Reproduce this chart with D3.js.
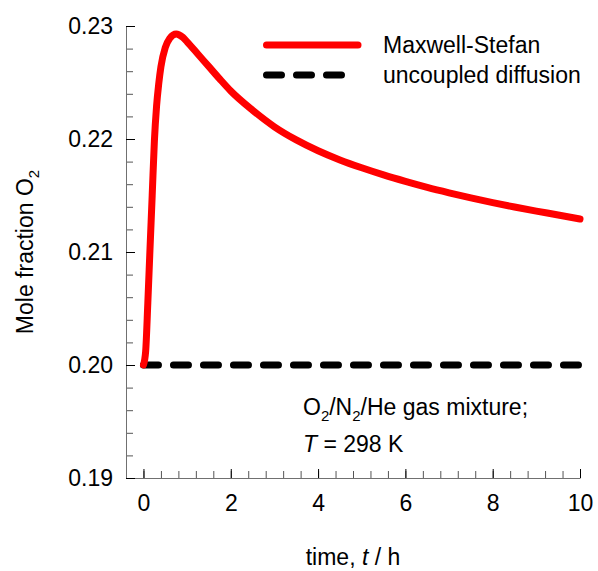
<!DOCTYPE html>
<html>
<head>
<meta charset="utf-8">
<script src="https://cdn.jsdelivr.net/npm/d3@7"></script>
<style>
  body { margin: 0; background: #fff; }
  text { font-family: "Liberation Sans", Arial, sans-serif; fill: #000; }
</style>
</head>
<body>
<svg id="chart" width="598" height="571"></svg>
<script>
// data
var timeH = [0, 0.05, 0.1, 0.15, 0.2, 0.25, 0.3, 0.35, 0.4, 0.5, 0.6, 0.75, 0.9, 1.0, 1.25, 1.5, 1.75,
             2.0, 2.5, 3.0, 3.5, 4.0, 4.5, 5.0, 5.5, 6.0, 6.5, 7.0, 7.5, 8.0, 8.5, 9.0, 9.5, 10]
var maxwellStefan = [0.2000, 0.2012, 0.2055, 0.2103, 0.2150, 0.2198, 0.2229, 0.2249, 0.2264, 0.2281, 0.2289,
                     0.2293, 0.2290, 0.2286, 0.2275, 0.2264, 0.2253, 0.22425, 0.22255, 0.22108, 0.21992,
                     0.21896, 0.21815, 0.21745, 0.21682, 0.21625, 0.21572, 0.21524, 0.21479, 0.21437,
                     0.21398, 0.21362, 0.21328, 0.21292]
var uncoupledT = [0, 10]
var uncoupled = [0.20, 0.20]
var xMajor = [0, 2, 4, 6, 8, 10]
var yMajor = [0.19, 0.20, 0.21, 0.22, 0.23]
var seriesNames = ["Maxwell-Stefan", "uncoupled diffusion"]

var svg = d3.select("#chart")
var x = d3.scaleLinear().domain([-0.4, 10]).range([126, 580])
var y = d3.scaleLinear().domain([0.19, 0.23]).range([478, 26])
var fs = 23

var xMinor = d3.range(0, 10.001, 0.4)
var yMinor = d3.range(0.19, 0.2301, 0.002)

// minor ticks
var gxm = svg.append("g").attr("transform", "translate(0,478)")
    .call(d3.axisBottom(x).tickValues(xMinor).tickSizeInner(-7).tickSizeOuter(0).tickFormat(""))
gxm.select(".domain").remove()
gxm.selectAll("line").attr("stroke", "#555")
var gym = svg.append("g").attr("transform", "translate(126,0)")
    .call(d3.axisLeft(y).tickValues(yMinor).tickSizeInner(-7).tickSizeOuter(0).tickFormat(""))
gym.select(".domain").remove()
gym.selectAll("line").attr("stroke", "#555")

// major ticks + labels
var gx = svg.append("g").attr("transform", "translate(0,478)")
    .call(d3.axisBottom(x).tickValues(xMajor).tickSizeInner(-9).tickSizeOuter(0).tickPadding(17).tickFormat(d3.format("d")))
gx.select(".domain").attr("stroke", "#707070")
gx.selectAll("line").attr("stroke", "#000")
gx.selectAll("text").style("font-size", fs + "px").attr("font-family", null)

var gy = svg.append("g").attr("transform", "translate(126,0)")
    .call(d3.axisLeft(y).tickValues(yMajor).tickSizeInner(-9).tickSizeOuter(0).tickPadding(13).tickFormat(d3.format(".2f")))
gy.select(".domain").attr("stroke", "#707070")
gy.selectAll("line").attr("stroke", "#000")
gy.selectAll("text").style("font-size", fs + "px").attr("font-family", null)

// lines
var line = d3.line().x(d => x(d[0])).y(d => y(d[1])).curve(d3.curveMonotoneX)
svg.append("path")
    .datum(d3.zip(uncoupledT, uncoupled))
    .attr("d", line)
    .attr("fill", "none").attr("stroke", "#000").attr("stroke-width", 7)
    .attr("stroke-dasharray", "15,15").attr("stroke-linecap", "round")
svg.append("path")
    .datum(d3.zip(timeH, maxwellStefan))
    .attr("d", line)
    .attr("fill", "none").attr("stroke", "#ff0000").attr("stroke-width", 7)
    .attr("stroke-linecap", "round").attr("stroke-linejoin", "round")

// legend
var leg = svg.append("g")
leg.append("line").attr("x1", 266.5).attr("x2", 358).attr("y1", 45).attr("y2", 45)
    .attr("stroke", "#ff0000").attr("stroke-width", 7).attr("stroke-linecap", "round")
leg.append("line").attr("x1", 266.5).attr("x2", 345).attr("y1", 75).attr("y2", 75)
    .attr("stroke", "#000").attr("stroke-width", 7).attr("stroke-linecap", "round")
    .attr("stroke-dasharray", "15,15")
leg.selectAll("text.lab").data(seriesNames).enter().append("text")
    .attr("x", 383).attr("y", (d, i) => 53 + i * 30)
    .style("font-size", fs + "px").text(d => d)

// annotation
var ann = svg.append("text").attr("x", 303).attr("y", 415).style("font-size", fs + "px")
ann.append("tspan").text("O")
ann.append("tspan").attr("dy", 6).style("font-size", "15px").text("2")
ann.append("tspan").attr("dy", -6).text("/N")
ann.append("tspan").attr("dy", 6).style("font-size", "15px").text("2")
ann.append("tspan").attr("dy", -6).text("/He gas mixture;")
var ann2 = svg.append("text").attr("x", 303).attr("y", 452).style("font-size", fs + "px")
ann2.append("tspan").style("font-style", "italic").text("T")
ann2.append("tspan").text(" = 298 K")

// axis titles
var xt = svg.append("text").attr("x", 353).attr("y", 565).attr("text-anchor", "middle").style("font-size", fs + "px")
xt.append("tspan").text("time, ")
xt.append("tspan").style("font-style", "italic").text("t")
xt.append("tspan").text(" / h")

var yt = svg.append("text").attr("transform", "translate(33,252) rotate(-90)")
    .attr("text-anchor", "middle").style("font-size", fs + "px")
yt.append("tspan").text("Mole fraction O")
yt.append("tspan").attr("dy", 6).style("font-size", "15px").text("2")
</script>
</body>
</html>
